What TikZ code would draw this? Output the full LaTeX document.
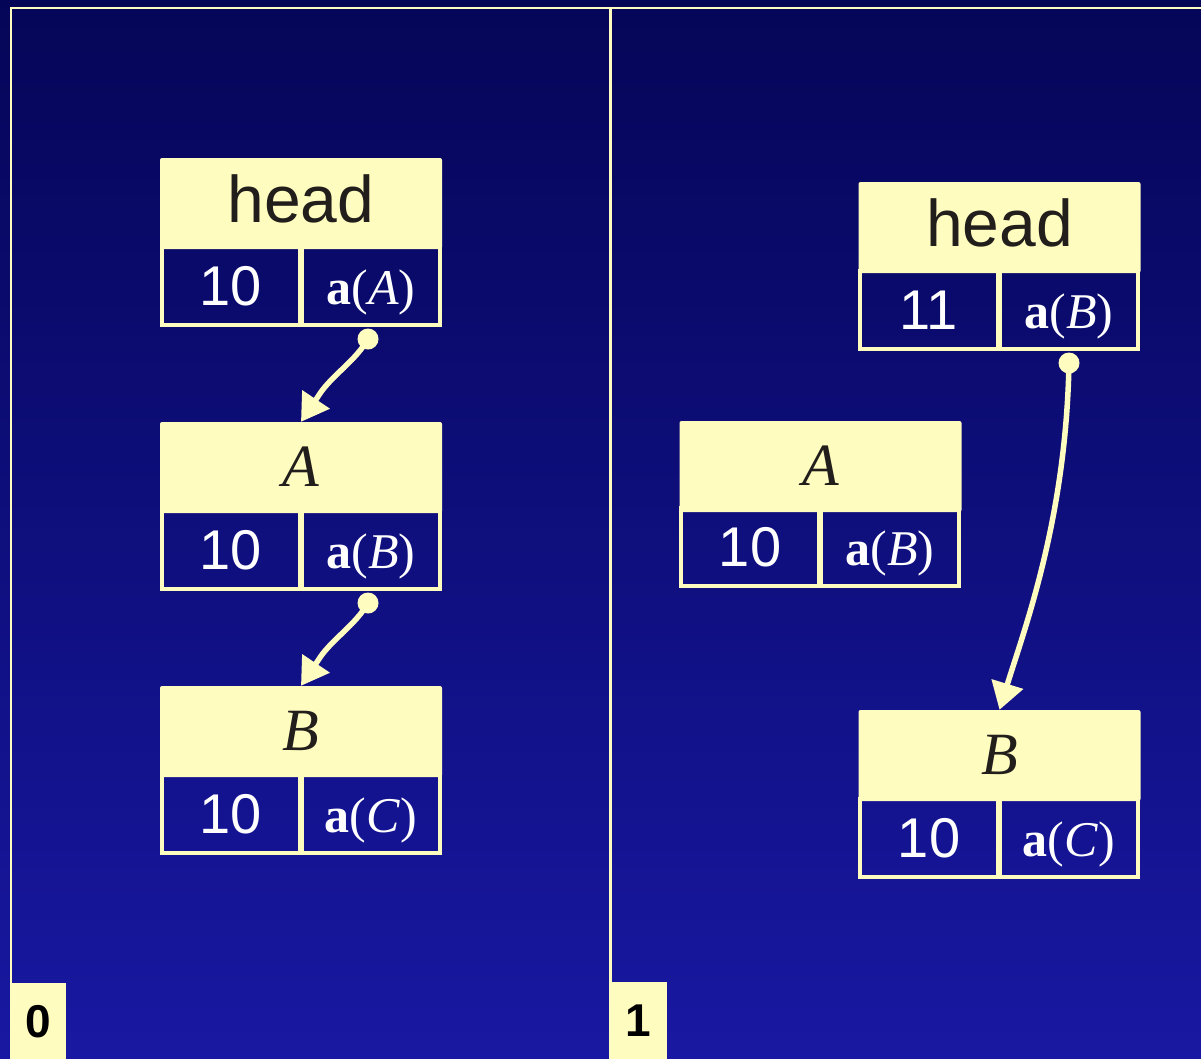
\documentclass[tikz,border=0pt]{standalone}
\usepackage{fontspec}
\setmainfont{Liberation Serif}
\newfontfamily\arialf{Liberation Sans}
\usetikzlibrary{arrows.meta}
\definecolor{cream}{RGB}{255,252,192}
\definecolor{bgtop}{RGB}{5,5,88}
\definecolor{bgbot}{RGB}{24,24,162}
\definecolor{inkc}{RGB}{34,30,28}
\begin{document}
\begin{tikzpicture}[x=1pt,y=-1pt,
  titlebox/.style={fill=cream, rounded corners=2pt, minimum width=282pt, minimum height=91pt, inner sep=0pt},
  cellbox/.style={draw=cream, line width=4pt, minimum width=138pt, minimum height=78pt, inner sep=0pt, text=white},
  headtext/.style={text=inkc, font=\arialf\fontsize{66}{66}\selectfont, inner sep=0pt},
  lettertext/.style={text=inkc, font=\fontsize{60}{60}\selectfont\itshape, inner sep=0pt},
  numtext/.style={font=\arialf\fontsize{56}{56}\selectfont},
  ptrtext/.style={font=\fontsize{50}{50}\selectfont, text height=48pt, text depth=12pt},
  framel/.style={draw=cream, line width=2.2pt},
  tagbox/.style={fill=cream, inner sep=0pt, font=\arialf\bfseries\fontsize{46}{46}\selectfont, text=black},
  conn/.style={draw=cream, line width=5.5pt, -{Triangle[length=27pt,width=32pt]}},
  dotc/.style={fill=cream}
]
% background
\shade[top color=bgtop, bottom color=bgbot] (0,0) rectangle (1201,1058);
\useasboundingbox (0,0) rectangle (1201,1058);
% frame
\node[tagbox, minimum width=56pt, minimum height=76pt, anchor=north west] (tag0) at (10,983) {0};
\node[tagbox, minimum width=58pt, minimum height=77pt, anchor=north west] (tag1) at (609,982) {1};
\draw[framel] (tag0.north west) ++(0.8,0) |- (1201,8);
\draw[framel] (610.5,8) -- (tag1.north -| 610.5,0);

% ---------- panel 0 ----------
% head
\node[titlebox] (h0t) at (301,203.5) {};
\node[headtext] (h0tt) at (301,199) {head};
\node[cellbox, numtext] (h0l) at (231,286) {10};
\node[cellbox, ptrtext] (h0r) at (371,286) {\textbf{a}(\textit{A})};
% A
\node[titlebox] (a0t) at (301,467.5) {};
\node[lettertext] (a0tt) at (301,467) {A};
\node[cellbox, numtext] (a0l) at (231,550) {10};
\node[cellbox, ptrtext] (a0r) at (371,550) {\textbf{a}(\textit{B})};
% B
\node[titlebox] (b0t) at (301,731.5) {};
\node[lettertext] (b0tt) at (301,731) {B};
\node[cellbox, numtext] (b0l) at (231,814) {10};
\node[cellbox, ptrtext] (b0r) at (371,814) {\textbf{a}(\textit{C})};

% ---------- panel 1 ----------
\node[titlebox] (h1t) at (999.5,227.5) {};
\node[headtext] (h1tt) at (999.5,223) {head};
\node[cellbox, numtext] (h1l) at (929,310) {11};
\node[cellbox, ptrtext] (h1r) at (1069,310) {\textbf{a}(\textit{B})};
% A (detached)
\node[titlebox] (a1t) at (820.5,466.5) {};
\node[lettertext] (a1tt) at (820.5,466) {A};
\node[cellbox, numtext] (a1l) at (750,547) {10};
\node[cellbox, ptrtext] (a1r) at (890,547) {\textbf{a}(\textit{B})};
% B
\node[titlebox] (b1t) at (999.5,755.5) {};
\node[lettertext] (b1tt) at (999.5,755) {B};
\node[cellbox, numtext] (b1l) at (929,838) {10};
\node[cellbox, ptrtext] (b1r) at (1069,838) {\textbf{a}(\textit{C})};

% ---------- pointers ----------
\coordinate (p0) at (368,339);
\coordinate (p1) at (368,603);
\coordinate (p2) at (1069,363);
\fill[dotc] (p0) circle (10.5);
\fill[dotc] (p1) circle (10.5);
\fill[dotc] (p2) circle (10.5);
\draw[conn] (p0) .. controls (356,360) and (334,374) .. (321,392) -- (a0t.north);
\draw[conn] (p1) .. controls (356,624) and (334,638) .. (321,656) -- (b0t.north);
\draw[conn] (p2) .. controls (1066,520) and (1024,630) .. (b1t.north);
\end{tikzpicture}
\end{document}
